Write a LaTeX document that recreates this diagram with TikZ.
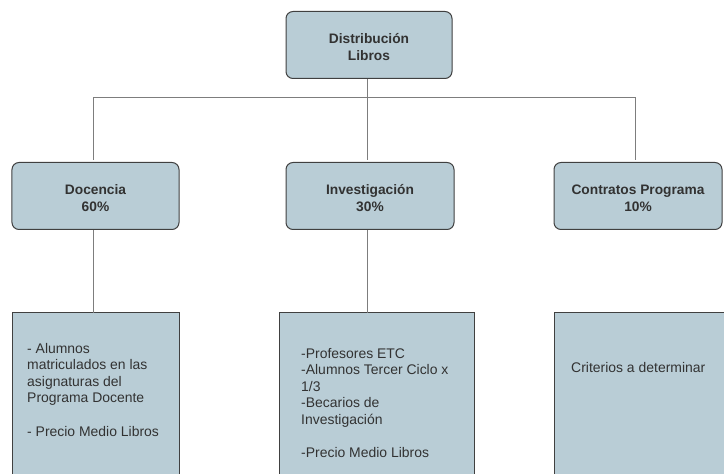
\documentclass[tikz,border=0pt]{standalone}
\usepackage{fontspec}
\setmainfont{Liberation Sans}
\usetikzlibrary{calc}
\definecolor{boxfill}{RGB}{185,205,214}
\definecolor{boxedge}{RGB}{64,64,64}
\definecolor{wire}{RGB}{125,125,125}
\definecolor{ink}{RGB}{50,50,50}
\tikzset{
  headbox/.style={draw=boxedge, fill=boxfill, line width=1bp, rounded corners=7bp,
    minimum height=67bp, inner sep=0pt},
  headtext/.style={inner sep=0pt, align=center, text=ink, yshift=-2bp,
    font=\fontsize{13.8}{17}\selectfont\bfseries},
  detailbox/.style={draw=boxedge, line width=1bp},
  detailtext/.style={anchor=north west, inner sep=0pt, align=left, text=ink,
    font=\fontsize{14}{16.6}\selectfont},
  wireline/.style={draw=wire, line width=1bp}
}
\begin{document}
\begin{tikzpicture}[x=1bp, y=-1bp]
\useasboundingbox (0,0) rectangle (724,474);
\clip (0,0) rectangle (724,474);

% top level
\node[headbox, minimum width=166bp,
  label={[headtext]center:Distribución\\Libros}] (root) at (369,45) {};

% second level
\node[headbox, minimum width=167bp,
  label={[headtext]center:Docencia\\60\%}] (doc) at (95.5,196) {};
\node[headbox, minimum width=168bp,
  label={[headtext]center:Investigación\\30\%}] (inv) at (370,196) {};
\node[headbox, minimum width=168bp,
  label={[headtext]center:Contratos Programa\\10\%}] (con) at (638,196) {};

% detail boxes, running off the lower edge
\fill[boxfill] (12,313) rectangle (179,480);
\fill[boxfill] (279,313) rectangle (474,480);
\fill[boxfill] (554,313) rectangle (740,480);
\draw[detailbox] (12,490) |- (179,313) -- (179,490);
\draw[detailbox] (279,490) |- (474,313) -- (474,490);
\draw[detailbox] (554,490) |- (740,313);
\coordinate (docd) at (93,313);
\coordinate (invd) at (367,313);

\node[detailtext] (doctext) at (27,343)
  {- Alumnos\\matriculados en las\\asignaturas del\\Programa Docente\\[16.6bp]- Precio Medio Libros};
\node[detailtext] (invtext) at (301,348)
  {-Profesores ETC\\-Alumnos Tercer Ciclo x\\1/3\\-Becarios de\\Investigación\\[16.6bp]-Precio Medio Libros};
\node[detailtext] (context) at (571,362) {Criterios a determinar};

% connector end points
\coordinate (rootdn) at ($(root.south)+(-2,0)$);
\coordinate (docup) at ($(doc.north)+(-2.5,-2)$);
\coordinate (invup) at ($(inv.north)+(-3,-2)$);
\coordinate (conup) at ($(con.north)+(-3,-2)$);
\coordinate (docdn) at ($(doc.south)+(-2.5,0)$);
\coordinate (invdn) at ($(inv.south)+(-3,0)$);
\coordinate (busl) at (docup |- 0,97.5);
\coordinate (busr) at (conup |- 0,97.5);
\coordinate (busm) at (rootdn |- 0,97.5);

% connectors
\draw[wireline] (rootdn) -- (busm);
\draw[wireline] (docup) -- (busl) -- (busr) -- (conup);
\draw[wireline] (invup) -- (invup |- busm);
\draw[wireline] (docdn) -- (docd);
\draw[wireline] (invdn) -- (invd);
\end{tikzpicture}
\end{document}
